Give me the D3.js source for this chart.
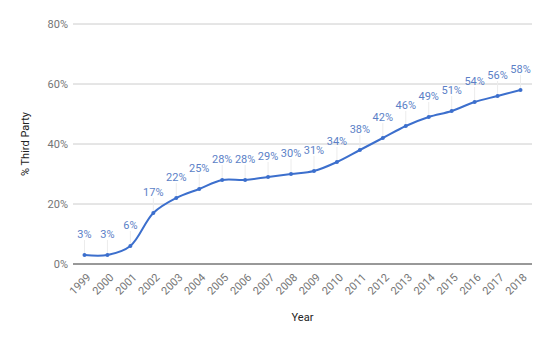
<!DOCTYPE html>
<html><head><meta charset="utf-8">
<script src="https://cdn.jsdelivr.net/npm/d3@7"></script>
<style>
body{margin:0;background:#fff;}
text{font-family:Roboto,"Noto Sans",sans-serif;}
</style></head>
<body><svg id="c" width="550" height="340"></svg>
<script>
const years = ["1999","2000","2001","2002","2003","2004","2005","2006","2007","2008","2009","2010","2011","2012","2013","2014","2015","2016","2017","2018"];
const values = [3,3,6,17,22,25,28,28,29,30,31,34,38,42,46,49,51,54,56,58];
const yTicks = [0,20,40,60,80];

const svg = d3.select("#c");
const pL = 73, pR = 532, pT = 24, pB = 264;
const x = d3.scalePoint().domain(years).range([pL, pR]).padding(0.5);
const y = d3.scaleLinear().domain([0,80]).range([pB, pT]);

// grid
svg.append("g").selectAll("line").data(yTicks.filter(d=>d>0)).join("line")
  .attr("x1", pL).attr("x2", pR)
  .attr("y1", d=>y(d)).attr("y2", d=>y(d))
  .attr("stroke", "#cccccc").attr("stroke-width", 1);
svg.append("line").attr("x1", pL).attr("x2", pR).attr("y1", y(0)).attr("y2", y(0))
  .attr("stroke", "#333").attr("stroke-width", 1);

// y labels
svg.append("g").selectAll("text").data(yTicks).join("text")
  .attr("x", pL - 5).attr("y", d=>y(d)+4)
  .attr("text-anchor","end").attr("font-size", 11).attr("fill","#757575")
  .text(d=>d+"%");

// x labels
svg.append("g").selectAll("text").data(years).join("text")
  .attr("transform", d=>`translate(${x(d)+7},${y(0)+14}) rotate(-45)`)
  .attr("text-anchor","end").attr("font-size", 11).attr("fill","#757575")
  .text(d=>d);

// axis titles
svg.append("text").attr("x", (pL+pR)/2).attr("y", 321).attr("text-anchor","middle")
  .attr("font-size", 11).attr("fill","#222").text("Year");
svg.append("text").attr("transform", `translate(29,${(pT+pB)/2}) rotate(-90)`)
  .attr("text-anchor","middle").attr("font-size", 11).attr("fill","#222").text("% Third Party");

// leader lines
svg.append("g").selectAll("line").data(values).join("line")
  .attr("x1", (d,i)=>x(years[i])).attr("x2", (d,i)=>x(years[i]))
  .attr("y1", d=>y(d)-15).attr("y2", d=>y(d))
  .attr("stroke", "#ececec").attr("stroke-width", 1);

// line
const line = d3.line().x((d,i)=>x(years[i])).y(d=>y(d)).curve(d3.curveCatmullRom.alpha(0.5));
svg.append("path").datum(values).attr("d", line)
  .attr("fill","none").attr("stroke","#3c6fcd").attr("stroke-width",2);

svg.append("g").selectAll("circle").data(values).join("circle")
  .attr("cx", (d,i)=>x(years[i])).attr("cy", d=>y(d)).attr("r", 2)
  .attr("fill","#3c6fcd");

// value labels
svg.append("g").selectAll("text").data(values).join("text")
  .attr("x", (d,i)=>x(years[i])).attr("y", d=>y(d)-17)
  .attr("text-anchor","middle").attr("font-size", 11).attr("fill","#5b7fc7")
  .text(d=>d+"%");
</script></body></html>
